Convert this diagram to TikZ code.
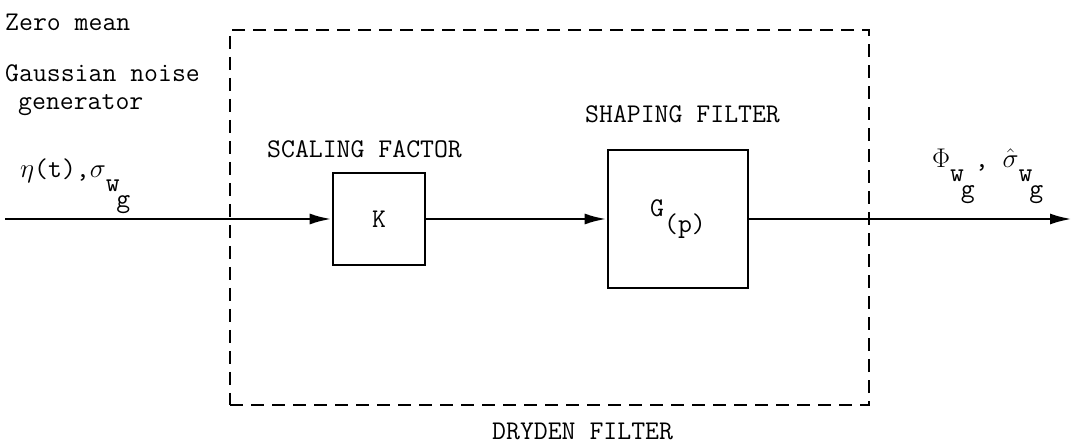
\RequirePackage{fix-cm}
\documentclass[tikz,border=0pt]{standalone}
\usetikzlibrary{arrows.meta}
\newcommand{\wgsub}{\raisebox{-0.5em}{w}\kern-0.12em\raisebox{-1.1em}{g}}
\begin{document}
\begin{tikzpicture}[x=1pt,y=-1pt,
  lbl/.style={anchor=base west,inner sep=0pt,font=\ttfamily\fontsize{27}{30}\selectfont},
  blk/.style={draw,line width=2.6pt,inner sep=0pt,font=\ttfamily\fontsize{27}{30}\selectfont},
  dbox/.style={draw,line width=2.8pt,dash pattern=on 13pt off 8pt,inner sep=0pt},
  arr/.style={line width=2.8pt,-{Latex[length=22pt,width=11pt]}}]
\useasboundingbox[fill=white] (0,0) rectangle (1074,446);
% Dryden filter dashed box
\node[dbox,minimum width=639pt,minimum height=375pt] (df) at (549.5,217.5) {};
% labels
\node[lbl] (zm) at (5,31) {Zero mean};
\node[lbl] (gn) at (5,82) {Gaussian noise};
\node[lbl] (gen) at (18,110) {generator};
\node[lbl] (nt) at (20,178) {$\eta$(t),$\sigma$\wgsub};
\node[lbl] (sc) at (267,158) {SCALING FACTOR};
\node[lbl] (sh) at (585,123) {SHAPING FILTER};
\node[lbl] (dry) at (492,439) {DRYDEN FILTER};
\node[lbl] (ph) at (932,168) {$\Phi$\wgsub, $\hat\sigma$\wgsub};
% blocks
\node[blk,minimum width=92pt,minimum height=92pt] (K) at (379,219) {K};
\node[blk,minimum width=140pt,minimum height=138pt] (G) at (678,219) {\raisebox{0.25em}{G}\raisebox{-0.35em}{(p)}};
% connectors
\coordinate (in) at (5,219);
\coordinate (out) at (1072,219);
\draw[arr] (in) -- (K.west);
\draw[arr] (K.east) -- (G.west);
\draw[arr] (G.east) -- (out);
\end{tikzpicture}
\end{document}
